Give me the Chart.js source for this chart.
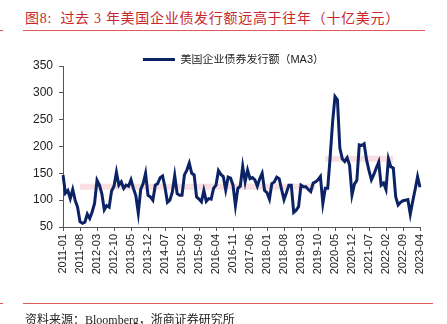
<!DOCTYPE html>
<html>
<head>
<meta charset="utf-8">
<script src="https://cdn.jsdelivr.net/npm/chart.js@4.4.1/dist/chart.umd.min.js"></script>
<style>
  html, body { margin: 0; padding: 0; background: #fff; }
  body { width: 447px; height: 324px; position: relative; overflow: hidden; }
  #title { position: absolute; left: 25px; top: 7px; color: #c8282d; white-space: nowrap;
           font: 14px "Liberation Serif", "Noto Sans CJK SC", serif; letter-spacing: 0.7px; }
  .rule { position: absolute; height: 1px; background: #e05a5a; }
  #source { position: absolute; left: 25px; top: 310px; color: #222; white-space: nowrap;
            font: 12px "Liberation Serif", "Noto Sans CJK SC", serif; }
  #chart { position: absolute; left: 0; top: 0; }
</style>
</head>
<body>
<div id="title">图8:&nbsp;&nbsp;过去 3 年美国企业债发行额远高于往年（十亿美元）</div>
<div class="rule" style="left:23px; top:30px; width:402px;"></div>
<div class="rule" style="left:0; top:30px; width:3px;"></div>
<canvas id="chart" width="447" height="324"></canvas>
<div class="rule" style="left:23px; top:303px; width:410px;"></div>
<div class="rule" style="left:0; top:303px; width:3px;"></div>
<div id="source">资料来源：Bloomberg，浙商证券研究所</div>
<script>
/* monthly categories 2011-01 .. 2023-04 */
const startYear = 2011;
const monthCount = 148;
const months = [];
for (let i = 0; i < monthCount; i++) {
  const y = startYear + Math.floor(i / 12), m = (i % 12) + 1;
  months.push(y + '-' + (m < 10 ? '0' + m : m));
}

/* US corporate bond issuance, 3-month moving average, bn USD */
const issuance = [
  147, 113, 118, 103, 120, 100, 87, 60, 57, 59, 74, 66,
  78, 94, 137, 128, 112, 82, 90, 87, 117, 126, 152, 128,
  134, 122, 128, 126, 138, 122, 108, 76, 120, 131, 150, 109,
  106, 100, 128, 131, 142, 145, 124, 96, 100, 115, 146, 112,
  109, 109, 147, 156, 169, 150, 147, 106, 102, 97, 118, 98,
  103, 102, 122, 128, 155, 148, 144, 119, 143, 141, 128, 90,
  122, 126, 163, 134, 156, 140, 142, 138, 126, 140, 150, 118,
  114, 102, 131, 134, 143, 140, 120, 101, 114, 128, 128, 77,
  81, 88, 128, 125, 125, 120, 116, 132, 134, 138, 144, 94,
  122, 122, 180, 245, 293, 287, 197, 177, 172, 179, 165, 110,
  130, 137, 203, 202, 205, 175, 155, 138, 148, 160, 171, 128,
  132, 120, 177, 162, 160, 106, 91, 96, 99, 100, 101, 74,
  98, 120, 144, 124
];

/* pink average bands: [value, first month index, last month index] */
const bandEarly = [125, 7, 104];
const bandRecent = [177, 108, 136];

const yTicks = [50, 100, 150, 200, 250, 300, 350];
const labelEvery = 7;
const legendLabel = '美国企业债券发行额（MA3）';

function bandSeries(band) {
  return months.map((_, i) => (i >= band[1] && i <= band[2]) ? band[0] : null);
}

const NAVY = '#0b2265';
const BAND = 'rgba(236,170,180,0.38)';

// the legend in the picture sits a little right of the canvas centre
const legendNudge = {
  id: 'legendNudge',
  afterLayout(chart) {
    if (chart.legend) { chart.legend.left += 13; chart.legend.right += 13; }
  }
};

new Chart(document.getElementById('chart'), {
  type: 'line',
  plugins: [legendNudge],
  data: {
    labels: months,
    datasets: [
      { label: legendLabel, data: issuance, borderColor: NAVY, backgroundColor: NAVY,
        borderWidth: 3, pointRadius: 0, pointStyle: 'line', tension: 0, order: 0 },
      { label: 'bandEarly', data: bandSeries(bandEarly), borderColor: BAND, borderWidth: 6,
        borderCapStyle: 'butt', pointRadius: 0, spanGaps: false, order: 1 },
      { label: 'bandRecent', data: bandSeries(bandRecent), borderColor: BAND, borderWidth: 6,
        borderCapStyle: 'butt', pointRadius: 0, spanGaps: false, order: 1 }
    ]
  },
  options: {
    responsive: false,
    animation: false,
    layout: { padding: { left: 21, right: 27, top: 54, bottom: 0 } },
    plugins: {
      tooltip: { enabled: false },
      legend: {
        position: 'top',
        align: 'center',
        maxHeight: 12,
        labels: {
          filter: item => item.datasetIndex === 0,
          usePointStyle: true,
          pointStyleWidth: 32,
          padding: 0,
          color: '#222',
          font: { size: 11, family: '"Liberation Sans", "Noto Sans CJK SC", sans-serif' }
        }
      }
    },
    scales: {
      x: {
        type: 'category',
        offset: false,
        afterFit: s => { s.height = 97; },
        border: { display: true, color: '#555', width: 1 },
        grid: {
          drawOnChartArea: false, drawTicks: true, tickLength: 4,
          color: ctx => (ctx.index % labelEvery === 0 ? '#555' : 'rgba(0,0,0,0)')
        },
        ticks: {
          autoSkip: false, minRotation: 90, maxRotation: 90, padding: 3,
          color: '#222',
          font: { size: 11, family: '"Liberation Sans", Arial, sans-serif' },
          callback: (v, i) => (i % labelEvery === 0 ? months[i] : '')
        }
      },
      y: {
        min: yTicks[0],
        max: yTicks[yTicks.length - 1],
        afterFit: s => { s.width = 42; },
        afterBuildTicks: s => { s.ticks = yTicks.map(v => ({ value: v })); },
        border: { display: true, color: '#555', width: 1 },
        grid: { drawOnChartArea: false, drawTicks: true, tickLength: 4, color: '#555' },
        ticks: {
          padding: 6, color: '#222',
          font: { size: 12, family: '"Liberation Sans", Arial, sans-serif' }
        }
      }
    }
  }
});
</script>
</body>
</html>
